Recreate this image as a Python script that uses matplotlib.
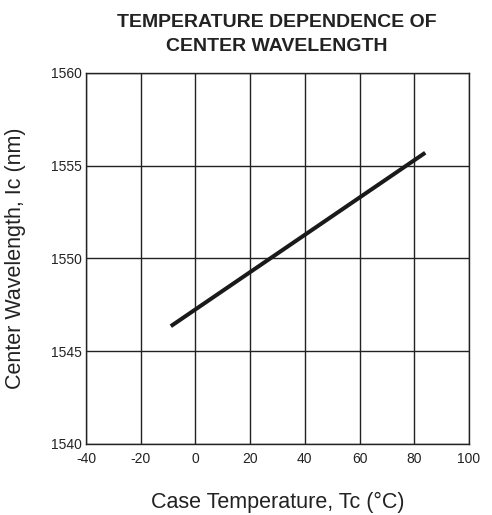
import matplotlib
matplotlib.use("Agg")
import matplotlib.pyplot as plt

plt.rcParams['font.family'] = ['Liberation Sans', 'DejaVu Sans']

temperature = [-9, 84]
wavelength = [1546.35, 1555.7]
x_ticks = [-40, -20, 0, 20, 40, 60, 80, 100]
y_ticks = [1540, 1545, 1550, 1555, 1560]

fig = plt.figure(figsize=(4.92, 5.15), dpi=100)
ax = fig.add_axes([0.1748, 0.1379, 0.7785, 0.7204])

ax.plot(temperature, wavelength, color='#1a1a1a', linewidth=2.9, solid_capstyle='butt', zorder=3)

ax.set_xlim(-40, 100)
ax.set_ylim(1540, 1560)
ax.set_xticks(x_ticks)
ax.set_yticks(y_ticks)
ax.set_xticklabels([str(v) for v in x_ticks])
ax.set_yticklabels([str(v) for v in y_ticks])
ax.grid(True, color='#222222', linewidth=1.0)
ax.tick_params(length=0, labelsize=10, colors='#222222')
ax.tick_params(axis='x', pad=6)
ax.tick_params(axis='y', pad=3)
for s in ax.spines.values():
    s.set_color('#222222')
    s.set_linewidth(1.0)

ax.set_xlabel('Case Temperature, Tc (°C)', fontsize=15.5, color='#222222')
ax.set_ylabel('Center Wavelength, Ic (nm)', fontsize=15.5, color='#222222')
ax.xaxis.label.set_va('center')
ax.yaxis.label.set_va('center')
ax.yaxis.label.set_ha('center')
ax.xaxis.set_label_coords(0.5, -0.157)
ax.yaxis.set_label_coords(-0.185, 0.5)
fig.text(0.562, 0.933, 'TEMPERATURE DEPENDENCE OF\nCENTER WAVELENGTH', ha='center', va='center',
         fontsize=14, fontweight='bold', color='#222222', linespacing=1.5)

fig.savefig('out.png', dpi=100)
